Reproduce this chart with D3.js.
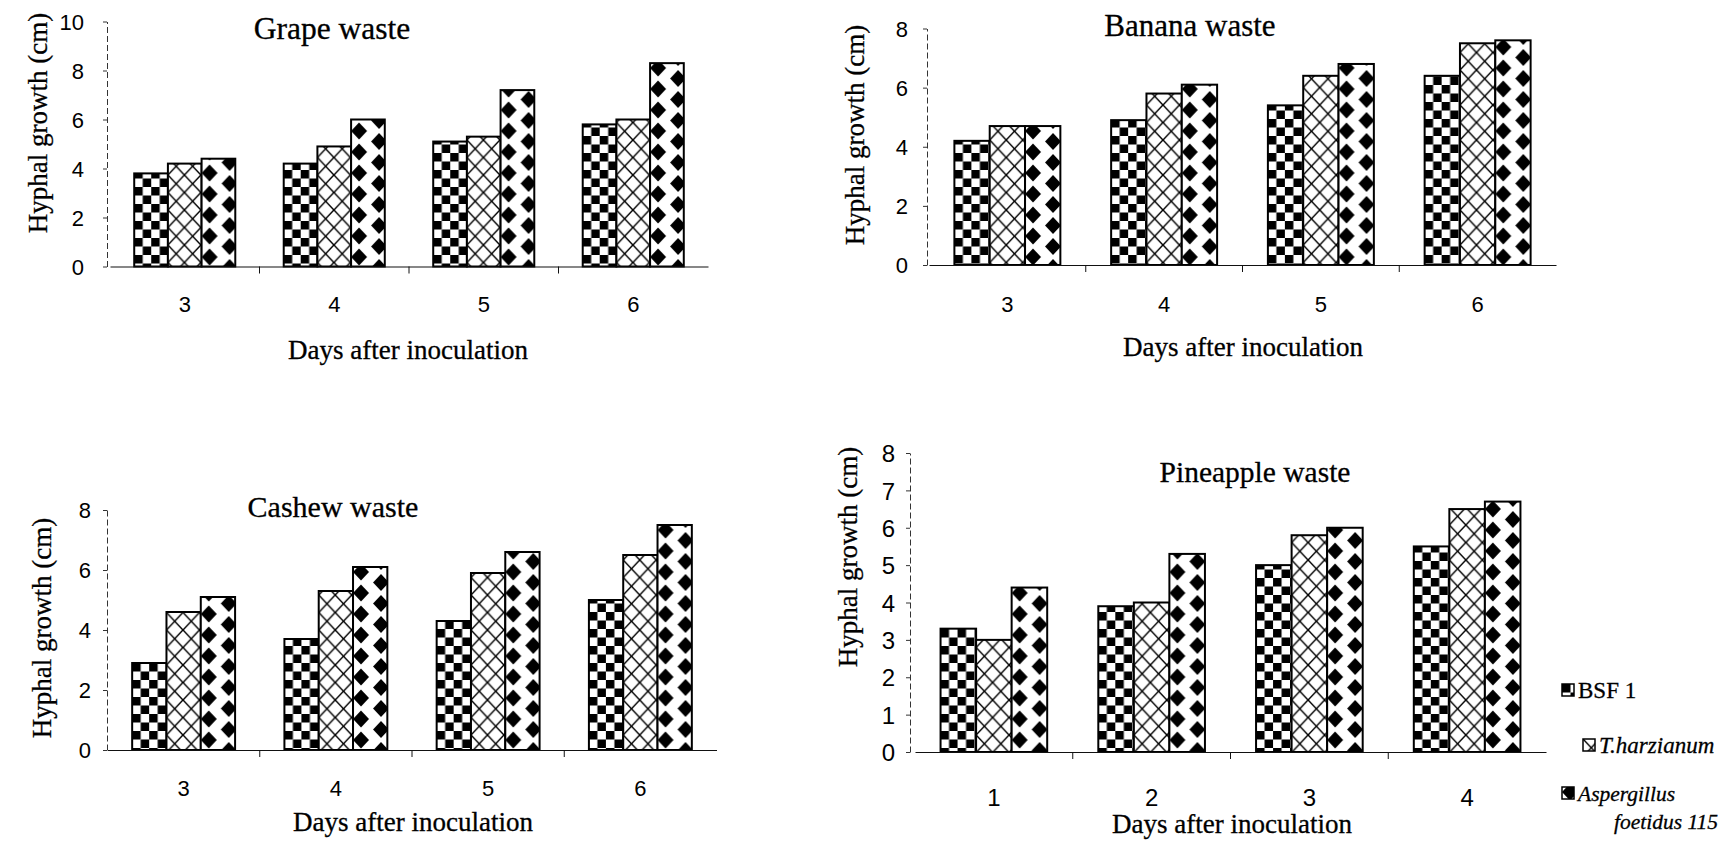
<!DOCTYPE html>
<html>
<head>
<meta charset="utf-8">
<script src="https://cdn.jsdelivr.net/npm/d3@7"></script>
<style>
  body { margin: 0; background: #fff; }
  .serif { font-family: "Liberation Serif", "Times New Roman", serif; stroke: #000; stroke-width: 0.3px; }
  .sans { font-family: "Liberation Sans", Arial, sans-serif; }
</style>
</head>
<body>
<svg id="chart" width="1722" height="849"></svg>
<script>
'use strict';
/* global d3 */

// data
var seriesNames = ['BSF 1', 'T.harzianum', 'Aspergillus foetidus 115'];
var daysLate = ['3', '4', '5', '6'];
var daysEarly = ['1', '2', '3', '4'];

var grapeBSF = [3.8, 4.2, 5.1, 5.8];
var grapeTri = [4.2, 4.9, 5.3, 6.0];
var grapeAsp = [4.4, 6.0, 7.2, 8.3];

var bananaBSF = [4.2, 4.9, 5.4, 6.4];
var bananaTri = [4.7, 5.8, 6.4, 7.5];
var bananaAsp = [4.7, 6.1, 6.8, 7.6];

var cashewBSF = [2.9, 3.7, 4.3, 5.0];
var cashewTri = [4.6, 5.3, 5.9, 6.5];
var cashewAsp = [5.1, 6.1, 6.6, 7.5];

var pineBSF = [3.3, 3.9, 5.0, 5.5];
var pineTri = [3.0, 4.0, 5.8, 6.5];
var pineAsp = [4.4, 5.3, 6.0, 6.7];

var ticksTen = [0, 2, 4, 6, 8, 10];
var ticksEight = [0, 2, 4, 6, 8];
var ticksByOne = [0, 1, 2, 3, 4, 5, 6, 7, 8];

var panels = [
  { title: 'Grape waste', days: daysLate, values: [grapeBSF, grapeTri, grapeAsp], yMax: 10, ticks: ticksTen,
    axisX: 107, xl: 110, xr: 708, yTop: 21.5, yZero: 266.5, tickGap: 23, tickFont: 22, catY: 304,
    titleX: 332, titleY: 27.5, titleSize: 31.5, yTitleX: 38, yTitleY: 123, xTitleX: 408, xTitleY: 350 },
  { title: 'Banana waste', days: daysLate, values: [bananaBSF, bananaTri, bananaAsp], yMax: 8, ticks: ticksEight,
    axisX: 927, xl: 929, xr: 1556, yTop: 28.5, yZero: 265, tickGap: 19, tickFont: 22, catY: 304,
    titleX: 1190, titleY: 25, titleSize: 31, yTitleX: 855, yTitleY: 135, xTitleX: 1243, xTitleY: 347 },
  { title: 'Cashew waste', days: daysLate, values: [cashewBSF, cashewTri, cashewAsp], yMax: 8, ticks: ticksEight,
    axisX: 107, xl: 107.5, xr: 716.5, yTop: 510, yZero: 750, tickGap: 16, tickFont: 22, catY: 788,
    titleX: 333, titleY: 506, titleSize: 30, yTitleX: 42, yTitleY: 628, xTitleX: 413, xTitleY: 822 },
  { title: 'Pineapple waste', days: daysEarly, values: [pineBSF, pineTri, pineAsp], yMax: 8, ticks: ticksByOne,
    axisX: 910, xl: 915, xr: 1546, yTop: 453, yZero: 752, tickGap: 15, tickFont: 24, catY: 797,
    titleX: 1255, titleY: 472, titleSize: 29.5, yTitleX: 848, yTitleY: 557, xTitleX: 1232, xTitleY: 824 }
];

var svg = d3.select('#chart');
var defs = svg.append('defs');

// checkerboard
var pc = defs.append('pattern').attr('id', 'patChecker')
  .attr('patternUnits', 'userSpaceOnUse').attr('width', 17).attr('height', 17);
pc.append('rect').attr('width', 17).attr('height', 17).attr('fill', '#fff');
pc.append('rect').attr('width', 8.5).attr('height', 8.5).attr('fill', '#000');
pc.append('rect').attr('x', 8.5).attr('y', 8.5).attr('width', 8.5).attr('height', 8.5).attr('fill', '#000');

// diagonal cross hatch
var ph = defs.append('pattern').attr('id', 'patCross')
  .attr('patternUnits', 'userSpaceOnUse').attr('width', 16.5).attr('height', 17.5);
ph.append('rect').attr('width', 16.5).attr('height', 17.5).attr('fill', '#fff');
ph.append('path').attr('d', 'M0,0L16.5,17.5M16.5,0L0,17.5')
  .attr('stroke', '#000').attr('stroke-width', 1.5).attr('fill', 'none');

// black diamonds, two offset columns
var dW = 40, dH = 21, dRx = 8, dRy = 8.5;
var pd = defs.append('pattern').attr('id', 'patDiamond')
  .attr('patternUnits', 'userSpaceOnUse').attr('width', dW).attr('height', dH);
pd.append('rect').attr('width', dW).attr('height', dH).attr('fill', '#fff');
[[8, 5], [8, 5 + dH], [28, 15.5], [28, 15.5 - dH]].forEach(function (c) {
  pd.append('path')
    .attr('d', 'M' + c[0] + ',' + (c[1] - dRy) + 'L' + (c[0] + dRx) + ',' + c[1] +
      'L' + c[0] + ',' + (c[1] + dRy) + 'L' + (c[0] - dRx) + ',' + c[1] + 'Z')
    .attr('fill', '#000');
});

var fills = ['url(#patChecker)', 'url(#patCross)', 'url(#patDiamond)'];

panels.forEach(function (p) {
  var g = svg.append('g');

  var x0 = d3.scaleBand().domain(p.days).range([p.xl, p.xr])
    .paddingInner(0.324).paddingOuter(0.162);
  var x1 = d3.scaleBand().domain(d3.range(seriesNames.length)).range([0, x0.bandwidth()]);
  var y = d3.scaleLinear().domain([0, p.yMax]).range([p.yZero, p.yTop]);

  // y axis, dashed like the scan
  var ya = g.append('g').attr('transform', 'translate(' + p.axisX + ',0)')
    .call(d3.axisLeft(y).tickValues(p.ticks).tickSize(4).tickSizeOuter(0).tickFormat(d3.format('d')));
  ya.select('.domain').attr('stroke', '#333').attr('stroke-width', 1).attr('stroke-dasharray', '6,3');
  ya.selectAll('.tick line').attr('stroke', '#333');
  ya.selectAll('.tick text')
    .attr('class', 'sans')
    .attr('font-size', p.tickFont)
    .attr('fill', '#000')
    .attr('x', -p.tickGap)
    .attr('dy', '0.36em');

  // bars; each bar gets its own origin so the fill pattern starts at its left edge
  g.selectAll('g.day').data(p.days).join('g')
    .attr('class', 'day')
    .attr('transform', function (d) { return 'translate(' + x0(d) + ',0)'; })
    .selectAll('rect')
    .data(function (d, i) { return p.values.map(function (v, s) { return { s: s, v: v[i] }; }); })
    .join('rect')
    .attr('transform', function (d) { return 'translate(' + x1(d.s) + ',0)'; })
    .attr('y', function (d) { return y(d.v); })
    .attr('width', x1.bandwidth())
    .attr('height', function (d) { return y(0) - y(d.v); })
    .attr('fill', function (d) { return fills[d.s]; })
    .attr('stroke', '#000')
    .attr('stroke-width', 2);

  // x axis
  var xa = g.append('g').attr('transform', 'translate(0,' + p.yZero + ')')
    .call(d3.axisBottom(x0).tickSize(0).tickSizeOuter(0));
  xa.select('.domain').attr('stroke', '#111').attr('stroke-width', 1.2);
  xa.selectAll('.tick text')
    .attr('class', 'sans')
    .attr('font-size', p.tickFont)
    .attr('fill', '#000')
    .attr('y', p.catY - p.yZero)
    .attr('dy', '0.36em');
  xa.selectAll('line.sep').data(d3.range(1, p.days.length)).join('line')
    .attr('class', 'sep')
    .attr('x1', function (i) { return p.xl + i * x0.step(); })
    .attr('x2', function (i) { return p.xl + i * x0.step(); })
    .attr('y1', 0).attr('y2', 7)
    .attr('stroke', '#111').attr('stroke-width', 1);

  // titles
  g.append('text').attr('class', 'serif')
    .attr('x', p.titleX).attr('y', p.titleY)
    .attr('text-anchor', 'middle').attr('dy', '0.35em')
    .attr('font-size', p.titleSize).text(p.title);

  g.append('text').attr('class', 'serif')
    .attr('transform', 'translate(' + p.yTitleX + ',' + p.yTitleY + ') rotate(-90)')
    .attr('text-anchor', 'middle').attr('dy', '0.35em')
    .attr('font-size', 27).text('Hyphal growth (cm)');

  g.append('text').attr('class', 'serif')
    .attr('x', p.xTitleX).attr('y', p.xTitleY)
    .attr('text-anchor', 'middle').attr('dy', '0.35em')
    .attr('font-size', 27).text('Days after inoculation');
});

// legend
var legendRows = [
  { s: 0, bx: 1562, y: 690, lines: [{ t: seriesNames[0], x: 1578, dy: 0, it: false, fs: 23 }] },
  { s: 1, bx: 1583, y: 745, lines: [{ t: seriesNames[1], x: 1599, dy: 0, it: true, fs: 23 }] },
  { s: 2, bx: 1562, y: 793, lines: [{ t: 'Aspergillus', x: 1578, dy: 0, it: true, fs: 21.5 },
                                    { t: 'foetidus 115', x: 1614, dy: 28, it: true, fs: 21.5 }] }
];
var lg = svg.append('g');
legendRows.forEach(function (r) {
  lg.append('rect')
    .attr('transform', 'translate(' + r.bx + ',' + (r.y - 6) + ')')
    .attr('width', 12).attr('height', 12)
    .attr('fill', fills[r.s]).attr('stroke', '#000').attr('stroke-width', 1.5);
  r.lines.forEach(function (l) {
    lg.append('text').attr('class', 'serif')
      .attr('x', l.x).attr('y', r.y + l.dy)
      .attr('dy', '0.35em')
      .attr('font-size', l.fs)
      .attr('font-style', l.it ? 'italic' : 'normal')
      .text(l.t);
  });
});
</script>
</body>
</html>
